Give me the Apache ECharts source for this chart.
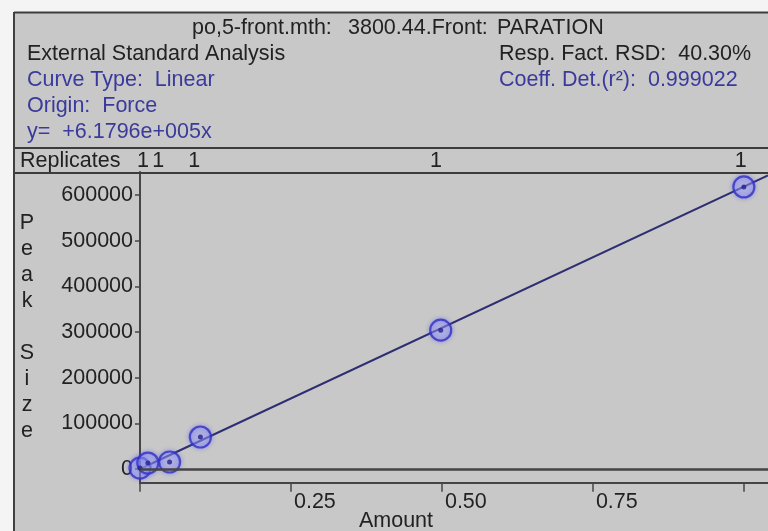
<!DOCTYPE html>
<html>
<head>
<meta charset="utf-8">
<script src="https://cdn.jsdelivr.net/npm/echarts@6/dist/echarts.min.js"></script>
<style>
html, body { margin: 0; padding: 0; background: #f4f4f4; }
#chart { width: 768px; height: 531px; }
</style>
</head>
<body>
<div id="chart"></div>
<script>
// calibration points (amount, peak size)
var amounts = [0, 0.013, 0.049, 0.1, 0.498, 1.0];
var peakSizes = [2000, 13000, 15300, 70000, 304000, 617500];

// fitted line y = +6.1796e+005x
var fitX = [0, 1.04];
var fitY = [0, 642678];

var yTicks = [0, 100000, 200000, 300000, 400000, 500000, 600000];
var xTicks = [0, 0.25, 0.5, 0.75, 1.0];
var xLabels = [0.25, 0.5, 0.75];

// replicate counts above each level
var replicateX = [0.005, 0.03, 0.09, 0.49, 0.995];
var replicateN = ['1', '1', '1', '1', '1'];

var font = 'Liberation Sans, Arial, sans-serif';
var fs = 21.5;
var ink = '#222222';
var blue = '#3a3a9c';
var lineCol = '#454545';

var points = amounts.map(function (x, i) { return [x, peakSizes[i]]; });
var fit = fitX.map(function (x, i) { return [x, fitY[i]]; });

var chart = echarts.init(document.getElementById('chart'));

var option = {
    backgroundColor: '#f4f4f4',
    animation: false,
    grid: {
        left: 140,
        top: 172.1,
        width: 632.3,
        height: 310.6
    },
    xAxis: {
        type: 'value',
        min: 0,
        max: 1.04,
        axisLine: { onZero: false, lineStyle: { color: lineCol, width: 2 } },
        axisTick: { show: true, length: 9, customValues: xTicks, lineStyle: { color: lineCol, width: 1.5 } },
        axisLabel: {
            customValues: xLabels,
            align: 'left',
            margin: 8,
            padding: [0, 0, 0, 3],
            fontFamily: font,
            fontSize: fs,
            color: ink,
            formatter: function (v) { return v.toFixed(2); }
        },
        splitLine: { show: false }
    },
    yAxis: {
        type: 'value',
        min: -30000,
        max: 650000,
        name: 'P\ne\na\nk\n\nS\ni\nz\ne',
        nameLocation: 'middle',
        nameRotate: 0,
        nameGap: 113,
        nameTextStyle: { fontFamily: font, fontSize: fs, color: ink, lineHeight: 26, align: 'center' },
        axisLine: { show: true, onZero: false, lineStyle: { color: lineCol, width: 2 } },
        axisTick: { show: true, length: 5, customValues: yTicks, lineStyle: { color: lineCol, width: 1.5 } },
        axisLabel: {
            customValues: yTicks,
            margin: 7,
            fontFamily: font,
            fontSize: fs,
            color: ink,
            formatter: function (v) { return String(v); }
        },
        splitLine: { show: false }
    },
    series: [
        {
            type: 'line',
            data: fit,
            symbol: 'none',
            lineStyle: { color: '#2e2e72', width: 2 },
            z: 2,
            markLine: {
                silent: true,
                symbol: 'none',
                label: { show: false },
                lineStyle: { color: lineCol, width: 2.5, type: 'solid' },
                data: [{ yAxis: 0 }]
            }
        },
        {
            type: 'scatter',
            data: points,
            symbol: 'circle',
            symbolSize: 21,
            itemStyle: {
                color: 'rgba(175,175,245,0.45)',
                borderColor: '#2f2fc0',
                borderWidth: 2.2,
                shadowBlur: 4,
                shadowColor: 'rgba(90,90,255,0.7)'
            },
            z: 3
        },
        {
            type: 'scatter',
            data: points,
            symbol: 'circle',
            symbolSize: 5,
            itemStyle: { color: '#22228a' },
            z: 4
        }
    ]
};
chart.setOption(option);

function txt(x, y, s, color, align) {
    return {
        type: 'text',
        x: x,
        y: y,
        z: 10,
        style: {
            text: s,
            fill: color,
            font: fs + 'px ' + font,
            textAlign: align || 'left',
            textVerticalAlign: 'middle'
        }
    };
}
function hline(y, x1, x2) {
    return { type: 'line', z: 9, shape: { x1: x1, y1: y, x2: x2, y2: y }, style: { stroke: '#3c3c3c', lineWidth: 2.2 } };
}

var g = [
    { type: 'rect', z: -10, shape: { x: 14, y: 12, width: 754, height: 519 }, style: { fill: '#c8c8c8' } },
    hline(12.5, 14, 768),
    hline(148, 14, 768),
    hline(173, 14, 768),
    { type: 'line', z: 9, shape: { x1: 14, y1: 12, x2: 14, y2: 531 }, style: { stroke: '#404040', lineWidth: 2 } },
    txt(192, 28, 'po,5-front.mth:', ink),
    txt(348, 28, '3800.44.Front:', ink),
    txt(497, 28, 'PARATION', ink),
    txt(27, 54, 'External Standard Analysis', ink),
    txt(27, 80, 'Curve Type:  Linear', blue),
    txt(27, 106, 'Origin:  Force', blue),
    txt(27, 132, 'y=  +6.1796e+005x', blue),
    txt(499, 54, 'Resp. Fact. RSD:  40.30%', ink),
    txt(499, 80, 'Coeff. Det.(r\u00b2):  0.999022', blue),
    txt(20, 161, 'Replicates', ink),
    txt(396, 521, 'Amount', ink, 'center')
];
replicateX.forEach(function (x, i) {
    var px = chart.convertToPixel({ xAxisIndex: 0 }, x);
    g.push(txt(px, 161, replicateN[i], ink, 'center'));
});
chart.setOption({ graphic: g });
</script>
</body>
</html>
